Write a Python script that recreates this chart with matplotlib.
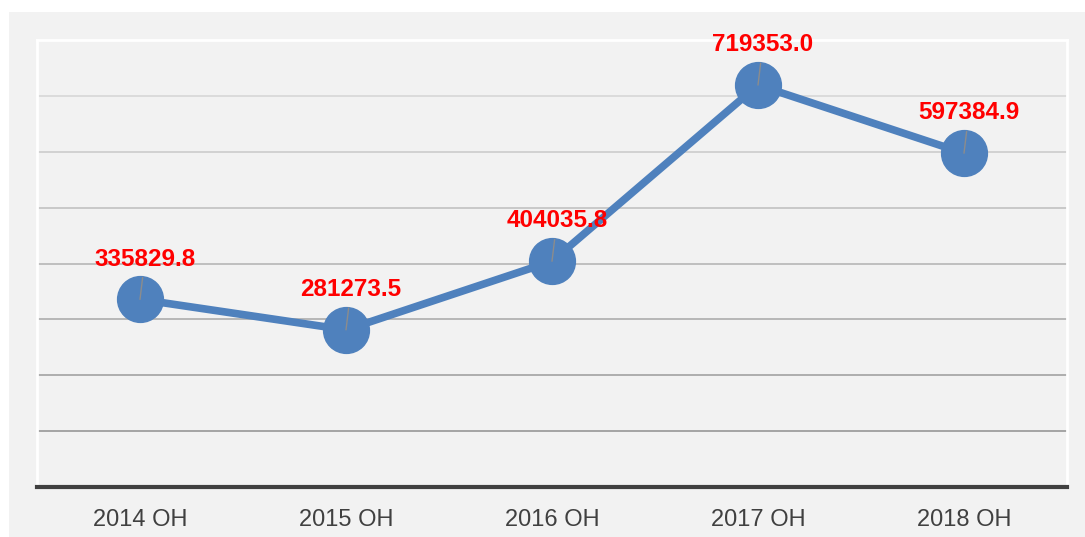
import matplotlib
matplotlib.use("Agg")
import matplotlib.pyplot as plt
from matplotlib.patches import Rectangle
import numpy as np

categories = ["2014 OH", "2015 OH", "2016 OH", "2017 OH", "2018 OH"]
values = [335829.8, 281273.5, 404035.8, 719353.0, 597384.9]
labels = ["335829.8", "281273.5", "404035.8", "719353.0", "597384.9"]

plt.rcParams['font.family'] = ['Liberation Sans', 'DejaVu Sans']

W, H = 1085, 537
fig = plt.figure(figsize=(W / 100, H / 100), dpi=100)
fig.patch.set_facecolor('white')
bg = Rectangle((9 / W, 0), 1 - 9 / W, 1 - 12 / H, transform=fig.transFigure,
               facecolor='#f2f2f2', edgecolor='none', zorder=-10)
fig.add_artist(bg)

ax = fig.add_axes([37 / W, 50 / H, 1030 / W, 447 / H])
ax.set_zorder(1)
ax.set_facecolor('#f2f2f2')
ax.set_xlim(-0.5, len(categories) - 0.5)
ax.set_ylim(0, 800000)

# gridlines with gradient colour (darker toward bottom)
grid_vals = np.arange(100000, 800000, 100000)
for i, g in enumerate(grid_vals):
    t = i / (len(grid_vals) - 1)
    c = (0.62 + t * (0.85 - 0.62),) * 3
    ax.axhline(g, color=c, lw=1.3, zorder=1)

for s in ['left', 'top', 'right']:
    ax.spines[s].set_color('white')
    ax.spines[s].set_linewidth(2)
ax.spines['bottom'].set_color('#404040')
ax.spines['bottom'].set_linewidth(3)

x = np.arange(len(categories))
ax.plot(x, values, color='#4f81bd', lw=5.5, marker='o', markersize=33,
        markerfacecolor='#4f81bd', markeredgecolor='#4f81bd', zorder=3,
        solid_capstyle='round')

for xi, v, lab in zip(x, values, labels):
    ax.annotate(lab, xy=(xi, v), xytext=(3.5, 29), textcoords='offset points',
                ha='center', va='center', color='#ff0000', fontsize=17.5,
                fontweight='bold', zorder=5,
                arrowprops=dict(arrowstyle='-', color='#8c8c8c', lw=1,
                                shrinkA=3, shrinkB=0))

ax.set_xticks(x)
ax.set_xticklabels(categories, fontsize=17, color='#404040')
ax.tick_params(axis='x', length=0, pad=16)
ax.set_yticks([])

fig.savefig('out.png', dpi=100, facecolor=fig.get_facecolor())
